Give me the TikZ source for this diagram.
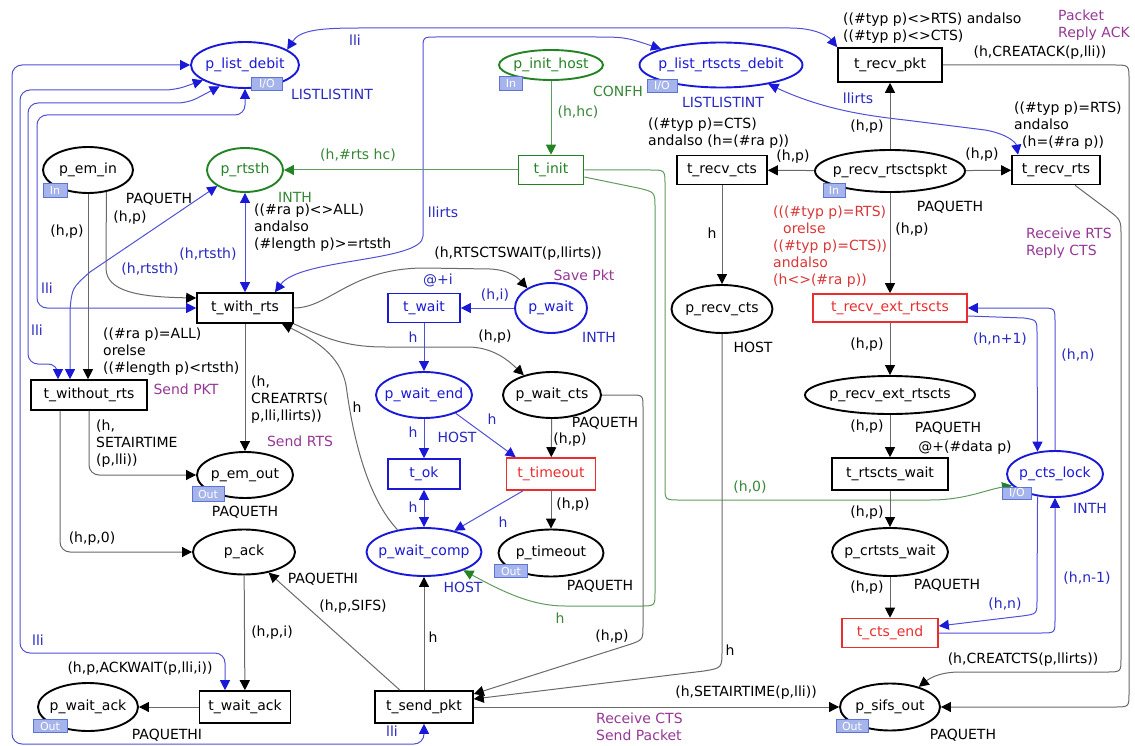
\documentclass[tikz,border=0pt]{standalone}
\usepackage{fontspec}
\setmainfont{DejaVu Sans}
\usepackage{xcolor}
\usetikzlibrary{arrows.meta}
\usetikzlibrary{shapes.geometric}

\definecolor{cpnblue}{RGB}{25,25,215}
\definecolor{cpngreen}{RGB}{35,130,35}
\definecolor{cpnred}{RGB}{235,45,45}
\definecolor{txtred}{RGB}{215,55,55}
\definecolor{txtgreen}{RGB}{55,135,55}
\definecolor{txtblue}{RGB}{40,40,195}
\definecolor{cpnpurple}{RGB}{150,55,150}
\definecolor{arcgray}{RGB}{105,105,105}
\definecolor{arcblue}{RGB}{80,80,215}
\definecolor{arcgreen}{RGB}{95,155,95}
\definecolor{tagfill}{RGB}{165,180,235}
\definecolor{tagline}{RGB}{95,115,210}

\newcommand{\nm}[1]{\makebox[0pt]{#1}}

\tikzset{
  place/.style={ellipse, draw=black, line width=1.9pt, inner sep=0pt},
  bplace/.style={place, draw=cpnblue, text=cpnblue},
  gplace/.style={place, draw=cpngreen, text=cpngreen},
  trans/.style={rectangle, draw=black, line width=1.6pt, inner sep=0pt},
  btrans/.style={trans, draw=cpnblue, text=cpnblue},
  gtrans/.style={trans, draw=cpngreen, text=cpngreen},
  rtrans/.style={trans, draw=cpnred, text=cpnred},
  porttag/.style={draw=tagline, fill=tagfill, text=white, inner sep=0pt, font=\fontsize{11}{11}\selectfont},
  karc/.style={draw=arcgray, line width=1pt, >={Triangle[length=10pt,width=10pt,color=black]}},
  barc/.style={draw=arcblue, line width=1pt, >={Triangle[length=10pt,width=10pt,color=cpnblue]}},
  garc/.style={draw=arcgreen, line width=1pt, >={Triangle[length=10pt,width=10pt,color=cpngreen]}},
  lbl/.style={inner sep=1pt},
  blbl/.style={lbl, text=txtblue},
  glbl/.style={lbl, text=txtgreen},
  rlbl/.style={lbl, text=txtred},
  plbl/.style={lbl, text=cpnpurple}
}

\begin{document}
\begin{tikzpicture}[x=1pt, y=-1pt, font=\fontsize{14}{17}\selectfont]
        \useasboundingbox (0,0) rectangle (1135,746);
        % places
        \node[bplace, minimum width=108pt, minimum height=46pt] (p_list_debit) at (245,65) {\nm{p\_list\_debit}};
        \node[gplace, minimum width=104pt, minimum height=30pt] (p_init_host) at (551,65) {\nm{p\_init\_host}};
        \node[bplace, minimum width=163pt, minimum height=45pt] (p_list_rtscts_debit) at (721,65) {\nm{p\_list\_rtscts\_debit}};
        \node[place, minimum width=90pt, minimum height=46pt] (p_em_in) at (88,170) {\nm{p\_em\_in}};
        \node[gplace, minimum width=76pt, minimum height=44pt] (p_rtsth) at (245,170) {\nm{p\_rtsth}};
        \node[place, minimum width=150pt, minimum height=42pt] (p_recv_rtsctspkt) at (890,171) {\nm{p\_recv\_rtsctspkt}};
        \node[bplace, minimum width=72pt, minimum height=50pt] (p_wait) at (551,308) {\nm{p\_wait}};
        \node[place, minimum width=101pt, minimum height=48pt] (p_recv_cts) at (722,309) {\nm{p\_recv\_cts}};
        \node[bplace, minimum width=96pt, minimum height=46pt] (p_wait_end) at (424,395) {\nm{p\_wait\_end}};
        \node[place, minimum width=98pt, minimum height=46pt] (p_wait_cts) at (552,395) {\nm{p\_wait\_cts}};
        \node[place, minimum width=170pt, minimum height=38pt] (p_recv_ext_rtscts) at (890,395) {\nm{p\_recv\_ext\_rtscts}};
        \node[place, minimum width=96pt, minimum height=46pt] (p_em_out) at (245,475) {\nm{p\_em\_out}};
        \node[bplace, minimum width=96pt, minimum height=46pt] (p_cts_lock) at (1055,474) {\nm{p\_cts\_lock}};
        \node[place, minimum width=102pt, minimum height=45pt] (p_ack) at (244,552) {\nm{p\_ack}};
        \node[bplace, minimum width=115pt, minimum height=48pt] (p_wait_comp) at (424,552) {\nm{p\_wait\_comp}};
        \node[place, minimum width=105pt, minimum height=47pt] (p_timeout) at (551,553) {\nm{p\_timeout}};
        \node[place, minimum width=116pt, minimum height=48pt] (p_crtsts_wait) at (890,552) {\nm{p\_crtsts\_wait}};
        \node[place, minimum width=100pt, minimum height=48pt] (p_wait_ack) at (88,707) {\nm{p\_wait\_ack}};
        \node[place, minimum width=100pt, minimum height=47pt] (p_sifs_out) at (890,707) {\nm{p\_sifs\_out}};
        % transitions
        \node[trans, minimum width=104pt, minimum height=34pt] (t_recv_pkt) at (890,65) {\nm{t\_recv\_pkt}};
        \node[gtrans, minimum width=65pt, minimum height=29pt] (t_init) at (551,170) {\nm{t\_init}};
        \node[trans, minimum width=90pt, minimum height=29pt] (t_recv_cts) at (722,170) {\nm{t\_recv\_cts}};
        \node[trans, minimum width=88pt, minimum height=29pt] (t_recv_rts) at (1056,170) {\nm{t\_recv\_rts}};
        \node[trans, minimum width=96pt, minimum height=30pt] (t_with_rts) at (245,308) {\nm{t\_with\_rts}};
        \node[btrans, minimum width=72pt, minimum height=29pt] (t_wait) at (424,308) {\nm{t\_wait}};
        \node[rtrans, minimum width=154pt, minimum height=28pt] (t_recv_ext_rtscts) at (890,308) {\nm{t\_recv\_ext\_rtscts}};
        \node[trans, minimum width=116pt, minimum height=30pt] (t_without_rts) at (89,395) {\nm{t\_without\_rts}};
        \node[btrans, minimum width=72pt, minimum height=30pt] (t_ok) at (424,474) {\nm{t\_ok}};
        \node[rtrans, minimum width=89pt, minimum height=32pt] (t_timeout) at (551,474) {\nm{t\_timeout}};
        \node[trans, minimum width=116pt, minimum height=32pt] (t_rtscts_wait) at (890,474) {\nm{t\_rtscts\_wait}};
        \node[rtrans, minimum width=96pt, minimum height=29pt] (t_cts_end) at (890,633) {\nm{t\_cts\_end}};
        \node[trans, minimum width=91pt, minimum height=32pt] (t_wait_ack) at (245,707) {\nm{t\_wait\_ack}};
        \node[trans, minimum width=98pt, minimum height=32pt] (t_send_pkt) at (424,707) {\nm{t\_send\_pkt}};
        % list places
        \draw[barc, <->] (p_list_debit.20) .. controls (300,30) and (320,28) .. (360,28) -- (790,28) .. controls (815,28) and (828,36) .. (t_recv_pkt.north west);
        \draw[barc, <->] (p_list_rtscts_debit.165) .. controls (625,37) .. (590,37) -- (436,37) .. controls (423,37) .. (423,50) -- (423,236) .. controls (423,262) and (300,258) .. ([xshift=30pt]t_with_rts.north);
        \draw[barc, <->] (p_list_rtscts_debit.-22) .. controls (820,108) and (860,115) .. (905,120) -- (985,130) .. controls (1008,134) and (1016,143) .. ([xshift=-38pt]t_recv_rts.north);
        \draw[barc, <->, rounded corners=10pt] (t_send_pkt.south) |- (12,744) |- (p_list_debit.west);
        \draw[barc, <->, rounded corners=10pt] ([xshift=-20pt]t_wait_ack.north) |- (20,653) |- (175,90) -- (p_list_debit.200);
        \draw[barc, <->, rounded corners=10pt] ([xshift=-31pt]t_without_rts.north) |- (28,364) |- (188,103) -- (p_list_debit.220);
        \draw[barc, <->, rounded corners=10pt] (t_with_rts.west) -| (37,115) -| (p_list_debit.south);
        % sender side
        \draw[karc, ->] (p_em_in.south) -- (p_em_in.south |- t_without_rts.north);
        \draw[karc, ->] (p_em_in.-50) -- (106,268) .. controls (106,292) and (140,297) .. ([yshift=10pt]t_with_rts.west);
        \draw[barc, <->] (p_rtsth) -- (t_with_rts);
        \draw[barc, <->] (p_rtsth.210) -- (90,272) .. controls (72,288) .. (70,310) -- ([xshift=-19pt]t_without_rts.north);
        \draw[garc, ->] (t_init) -- (p_rtsth);
        \draw[garc, ->] (p_init_host) -- (t_init);
        \draw[garc, ->] (t_init.east) -- (650,170) .. controls (665,170) .. (665,185) -- (665,486) .. controls (665,500) .. (680,500) -- (930,500) .. controls (965,500) and (985,490) .. (p_cts_lock.195);
        \draw[garc, ->] ([yshift=-7pt]t_init.east) -- (638,188) .. controls (655,192) .. (655,208) -- (655,592) .. controls (655,606) .. (640,606) -- (565,606) .. controls (530,606) and (500,590) .. (p_wait_comp.-25);
        \draw[karc, ->] (t_with_rts) -- (p_em_out);
        \draw[karc, ->] (t_with_rts.east) .. controls (330,308) and (350,268) .. (425,268) -- (490,269) .. controls (510,270) and (518,278) .. (p_wait.140);
        \draw[karc, ->] (t_with_rts.south east) .. controls (325,338) and (345,347) .. (385,347) -- (470,347) .. controls (495,348) and (510,362) .. (p_wait_cts.145);
        \draw[karc, ->] (p_wait_comp.140) .. controls (365,495) and (352,430) .. (346,385) .. controls (340,355) and (315,340) .. ([xshift=37pt]t_with_rts.south);
        \draw[karc, ->, rounded corners=10pt] (t_without_rts.south) |- (p_em_out.west);
        \draw[karc, ->, rounded corners=10pt] ([xshift=-29pt]t_without_rts.south) |- (p_ack.west);
        \draw[barc, ->] (p_wait) -- (t_wait);
        \draw[barc, ->] (t_wait) -- (p_wait_end);
        \draw[barc, ->] (p_wait_end) -- (t_ok);
        \draw[barc, ->] (p_wait_end.-30) -- ([xshift=10pt]t_timeout.north west);
        \draw[barc, <->] (t_ok) -- (p_wait_comp);
        \draw[barc, ->] ([xshift=-28pt]t_timeout.south) -- (p_wait_comp.35);
        \draw[karc, ->] (p_wait_cts) -- (t_timeout);
        \draw[karc, ->] (t_timeout) -- (p_timeout);
        \draw[karc, ->] (p_wait_cts.east) -- (630,395) .. controls (643,395) .. (643,408) -- (643,626) .. controls (643,640) .. (628,645) -- ([yshift=13pt]t_send_pkt.east);
        \draw[karc, ->] (p_recv_cts) -- (722,650) .. controls (722,668) .. (704,671) -- ([yshift=8pt]t_send_pkt.east);
        \draw[karc, ->] (t_send_pkt) -- (p_sifs_out);
        \draw[karc, ->] (t_send_pkt) -- (p_wait_comp);
        \draw[karc, ->] ([xshift=-24pt]t_send_pkt.north) -- (p_ack.-40);
        \draw[karc, ->] (p_ack) -- (t_wait_ack);
        \draw[karc, ->] (t_wait_ack) -- (p_wait_ack);
        % receiver side
        \draw[karc, ->] (p_recv_rtsctspkt) -- (t_recv_cts);
        \draw[karc, ->] (p_recv_rtsctspkt) -- (t_recv_rts);
        \draw[karc, ->] (p_recv_rtsctspkt) -- (t_recv_pkt);
        \draw[karc, ->] (p_recv_rtsctspkt) -- (t_recv_ext_rtscts);
        \draw[karc, ->] (t_recv_cts) -- (p_recv_cts);
        \draw[karc, ->] (t_recv_ext_rtscts) -- (p_recv_ext_rtscts);
        \draw[karc, ->] (p_recv_ext_rtscts) -- (t_rtscts_wait);
        \draw[karc, ->] (t_rtscts_wait) -- (p_crtsts_wait);
        \draw[karc, ->] (p_crtsts_wait) -- (t_cts_end);
        \draw[barc, ->] (p_cts_lock.north) -- (1055,322) .. controls (1055,308) .. (1040,308) -- (t_recv_ext_rtscts.east);
        \draw[barc, ->] ([yshift=-8pt]t_recv_ext_rtscts.east) -- (1024,318) .. controls (1037,320) .. (1037,334) -- (p_cts_lock.128);
        \draw[barc, ->] (p_cts_lock.-128) -- (1037,600) .. controls (1037,614) .. (1022,616) -- ([yshift=7pt]t_cts_end.east);
        \draw[barc, ->] (t_cts_end.east) -- (1041,633) .. controls (1055,633) .. (1055,619) -- (p_cts_lock.south);
        \draw[karc, ->] (t_recv_pkt.east) -- (1114,65) .. controls (1129,65) .. (1129,80) -- (1129,693) .. controls (1129,707) .. (1114,707) -- (p_sifs_out.east);
        \draw[karc, ->] ([xshift=19pt]t_recv_rts.south) -- (1108,210) .. controls (1121,220) .. (1121,236) -- (1121,658) .. controls (1121,672) .. (1106,672) -- (960,672) .. controls (940,672) and (930,678) .. (p_sifs_out.35);
        % arc inscriptions
        \node[blbl] (l_lli_top) at (355,40) {lli};
        \node[blbl] (l_llirts_a) at (443,212) {llirts};
        \node[blbl] (l_llirts_b) at (858,98) {llirts};
        \node[blbl] (l_lli_a) at (392,731) {lli};
        \node[blbl] (l_lli_b) at (38,640) {lli};
        \node[lbl] (l_ackwait) at (140,669) {(h,p,ACKWAIT(p,lli,i))};
        \node[blbl] (l_lli_c) at (37,330) {lli};
        \node[blbl] (l_lli_d) at (47,288) {lli};
        \node[lbl] (l_hp_a) at (67,232) {(h,p)};
        \node[lbl] (l_hp_b) at (130,218) {(h,p)};
        \node[blbl] (l_rtsth_a) at (208,254) {(h,rtsth)};
        \node[blbl] (l_rtsth_b) at (150,269) {(h,rtsth)};
        \node[glbl] (l_rtshc) at (358,155) {(h,\#rts hc)};
        \node[glbl] (l_hhc) at (578,112) {(h,hc)};
        \node[glbl] (l_h0) at (750,487) {(h,0)};
        \node[glbl] (l_hgreen) at (560,618) {h};
        \node[lbl, anchor=west, align=left] (l_creatrts) at (250,400) {(h,\\CREATRTS(\\p,lli,llirts))};
        \node[lbl, anchor=west, align=left] (l_setair_a) at (95,444) {(h,\\SETAIRTIME\\(p,lli))};
        \node[lbl] (l_hp0) at (92,539) {(h,p,0)};
        \node[lbl] (l_rtsctswait) at (518,254) {(h,RTSCTSWAIT(p,llirts))};
        \node[lbl] (l_hp_c) at (495,337) {(h,p)};
        \node[lbl] (l_h_back) at (357,407) {h};
        \node[blbl] (l_hi) at (495,295) {(h,i)};
        \node[blbl] (l_h_a) at (413,337) {h};
        \node[blbl] (l_h_b) at (413,432) {h};
        \node[blbl] (l_h_c) at (492,419) {h};
        \node[blbl] (l_h_d) at (413,507) {h};
        \node[blbl] (l_h_e) at (503,522) {h};
        \node[lbl] (l_hp_d) at (570,440) {(h,p)};
        \node[lbl] (l_hp_e) at (573,505) {(h,p)};
        \node[lbl] (l_hp_f) at (612,637) {(h,p)};
        \node[lbl] (l_h_f) at (730,650) {h};
        \node[lbl] (l_h_g) at (433,637) {h};
        \node[lbl] (l_sifs) at (353,607) {(h,p,SIFS)};
        \node[lbl] (l_hpi) at (272,633) {(h,p,i)};
        \node[lbl] (l_setair_b) at (746,693) {(h,SETAIRTIME(p,lli))};
        \node[lbl] (l_hp_g) at (793,157) {(h,p)};
        \node[lbl] (l_hp_h) at (982,155) {(h,p)};
        \node[lbl] (l_hp_i) at (867,127) {(h,p)};
        \node[lbl] (l_hp_j) at (912,230) {(h,p)};
        \node[lbl] (l_h_h) at (712,233) {h};
        \node[lbl] (l_hp_k) at (867,345) {(h,p)};
        \node[lbl] (l_hp_l) at (867,427) {(h,p)};
        \node[lbl] (l_hp_m) at (867,513) {(h,p)};
        \node[lbl] (l_hp_n) at (867,588) {(h,p)};
        \node[blbl] (l_hn_a) at (1078,355) {(h,n)};
        \node[blbl] (l_hn1) at (1000,339) {(h,n+1)};
        \node[blbl] (l_hn_b) at (1005,604) {(h,n)};
        \node[blbl] (l_hnm1) at (1087,578) {(h,n-1)};
        \node[lbl] (l_createack) at (1040,53) {(h,CREATACK(p,lli))};
        \node[lbl] (l_creatects) at (1023,660) {(h,CREATCTS(p,llirts))};
        % guards, comments, delays
        \node[lbl, anchor=west, align=left] (g_recv_pkt) at (842,28) {((\#typ p)<>RTS) andalso\\((\#typ p)<>CTS)};
        \node[plbl, anchor=west, align=left] (c_recv_pkt) at (1057,25) {Packet\\Reply ACK};
        \node[lbl, anchor=west, align=left] (g_recv_cts) at (647,133) {((\#typ p)=CTS)\\andalso (h=(\#ra p))};
        \node[lbl, anchor=west, align=left] (g_recv_rts) at (1013,126) {((\#typ p)=RTS)\\andalso\\\hspace*{8pt}(h=(\#ra p))};
        \node[rlbl, anchor=west, align=left] (g_recv_ext) at (772,247) {(((\#typ p)=RTS)\\\hspace*{10pt}orelse\\((\#typ p)=CTS))\\andalso\\(h<>(\#ra p))};
        \node[plbl, anchor=west, align=left] (c_recv_rts) at (1025,243) {Receive RTS\\Reply CTS};
        \node[lbl, anchor=west, align=left] (g_with_rts) at (253,228) {((\#ra p)<>ALL)\\andalso\\(\#length p)>=rtsth};
        \node[lbl, anchor=west, align=left] (g_without_rts) at (102,352) {((\#ra p)=ALL)\\orelse\\((\#length p)<rtsth)};
        \node[plbl] (c_without_rts) at (186,389) {Send PKT};
        \node[plbl] (c_with_rts) at (300,441) {Send RTS};
        \node[plbl] (c_wait) at (584,275) {Save Pkt};
        \node[blbl] (d_wait) at (438,280) {@+i};
        \node[lbl] (d_rtscts_wait) at (965,448) {@+(\#data p)};
        \node[plbl, anchor=west, align=left] (c_send_pkt) at (595,727) {Receive CTS\\Send Packet};
        % colour sets
        \node[blbl] (ty_list_debit) at (332,94) {LISTLISTINT};
        \node[glbl] (ty_init_host) at (618,91) {CONFH};
        \node[blbl] (ty_list_rtscts) at (723,102) {LISTLISTINT};
        \node[lbl] (ty_em_in) at (159,199) {PAQUETH};
        \node[glbl] (ty_rtsth) at (295,197) {INTH};
        \node[lbl] (ty_recv_rtsctspkt) at (950,207) {PAQUETH};
        \node[blbl] (ty_wait) at (599,337) {INTH};
        \node[lbl] (ty_recv_cts) at (753,347) {HOST};
        \node[blbl] (ty_wait_end) at (457,437) {HOST};
        \node[lbl] (ty_wait_cts) at (605,423) {PAQUETH};
        \node[lbl] (ty_recv_ext) at (948,428) {PAQUETH};
        \node[lbl] (ty_em_out) at (245,512) {PAQUETH};
        \node[blbl] (ty_cts_lock) at (1090,508) {INTH};
        \node[lbl] (ty_ack) at (323,579) {PAQUETHI};
        \node[blbl] (ty_wait_comp) at (463,587) {HOST};
        \node[lbl] (ty_timeout) at (600,586) {PAQUETH};
        \node[lbl] (ty_crtsts) at (947,585) {PAQUETH};
        \node[lbl] (ty_wait_ack) at (167,735) {PAQUETHI};
        \node[lbl] (ty_sifs_out) at (963,735) {PAQUETH};
        % port tags
        \node[porttag, minimum width=31pt, minimum height=13pt] (io_list_debit) at (267,84) {I/O};
        \node[porttag, minimum width=23pt, minimum height=14pt] (in_init_host) at (511,83) {In};
        \node[porttag, minimum width=30pt, minimum height=13pt] (io_list_rtscts) at (662,86) {I/O};
        \node[porttag, minimum width=24pt, minimum height=14pt] (in_em_in) at (55,190) {In};
        \node[porttag, minimum width=22pt, minimum height=14pt] (in_recv_rtsctspkt) at (834,190) {In};
        \node[porttag, minimum width=32pt, minimum height=15pt] (out_em_out) at (208,494) {Out};
        \node[porttag, minimum width=29pt, minimum height=12pt] (io_cts_lock) at (1017,493) {I/O};
        \node[porttag, minimum width=33pt, minimum height=13pt] (out_timeout) at (511,571) {Out};
        \node[porttag, minimum width=34pt, minimum height=13pt] (out_wait_ack) at (50,726) {Out};
        \node[porttag, minimum width=32pt, minimum height=13pt] (out_sifs_out) at (852,726) {Out};
    \end{tikzpicture}
\end{document}
